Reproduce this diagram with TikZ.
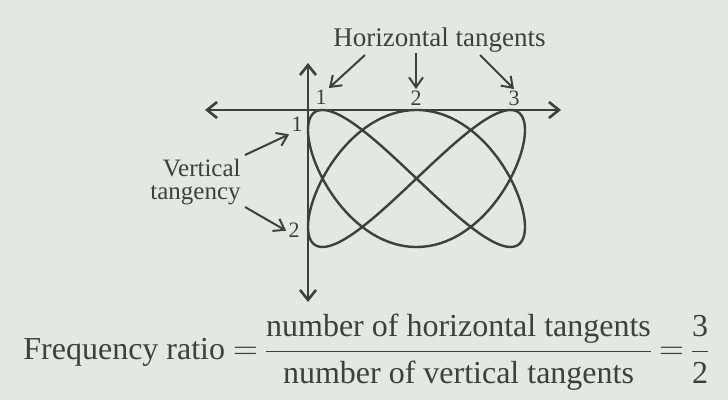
\documentclass[tikz,border=0pt]{standalone}
\usepackage{amsmath}
\usepackage{fontspec}
\setmainfont{Liberation Serif}
\usetikzlibrary{arrows.meta}
\definecolor{scanbg}{HTML}{E4E7E3}
\definecolor{ink}{HTML}{3A423C}
\tikzset{
  axisline/.style={draw=ink, line width=1.3pt,
    {Straight Barb[length=5pt, width=8pt]}-{Straight Barb[length=5pt, width=8pt]}},
  lissa/.style={draw=ink, line width=1.2pt},
  pointer/.style={draw=ink, line width=1pt, -{Straight Barb[length=5pt, width=7pt]}},
  caption/.style={text=ink, inner sep=0pt},
  numtag/.style={text=ink, inner sep=1pt, font=\fontsize{11}{13}\selectfont},
}

\begin{document}
\begin{tikzpicture}[x=0.5pt, y=-0.5pt]
  \fill[scanbg] (0,0) rectangle (728,400);
  \useasboundingbox (0,0) rectangle (728,400);

  % axes
  \draw[axisline] (205,110) -- (561,110);
  \draw[axisline] (308,63) -- (308,302);

  % 3:2 figure, touching the axes at the top and at the left
  \draw[lissa] plot[domain=0:360, samples=241, smooth]
    ({416.5-108.5*sin(2*\x)}, {178.5+68.5*sin(3*\x)});

  % tangent points
  \node[numtag, anchor=base] (h1) at (321,105) {1};
  \node[numtag, anchor=base] (h2) at (416,106) {2};
  \node[numtag, anchor=base] (h3) at (514,106) {3};
  \node[numtag, anchor=base] (v1) at (297,132) {1};
  \node[numtag, anchor=base] (v2) at (294,238) {2};

  % labels
  \node[caption, anchor=base west, font=\fontsize{13.5}{15}\selectfont] (htxt) at (333,47)
       {Horizontal tangents};
  \node[caption, anchor=east, align=right, font=\fontsize{12.5}{11.5}\selectfont] (vtxt) at (241,182)
       {Vertical\\tangency};

  \coordinate (ht1) at (365,55);
  \coordinate (ht2) at (416,53);
  \coordinate (ht3) at (480,55);
  \coordinate (vt1) at (245,155);
  \coordinate (vt2) at (245,207);
  \draw[pointer] (ht1) -- (h1.north east);
  \draw[pointer] (ht2) -- (h2.north);
  \draw[pointer] (ht3) -- (h3.north);
  \draw[pointer] (vt1) -- (v1.south west);
  \draw[pointer] (vt2) -- (v2.west);

  % the ratio
  \node[caption, anchor=base west, font=\fontsize{16}{19}\selectfont] (ratio) at (23,360)
       {\thickmuskip=3mu Frequency ratio
        $=\dfrac{\text{number of horizontal tangents}}{\text{number of vertical tangents}}
        =\dfrac{\text{3}}{\text{2}}$};
\end{tikzpicture}
\end{document}
